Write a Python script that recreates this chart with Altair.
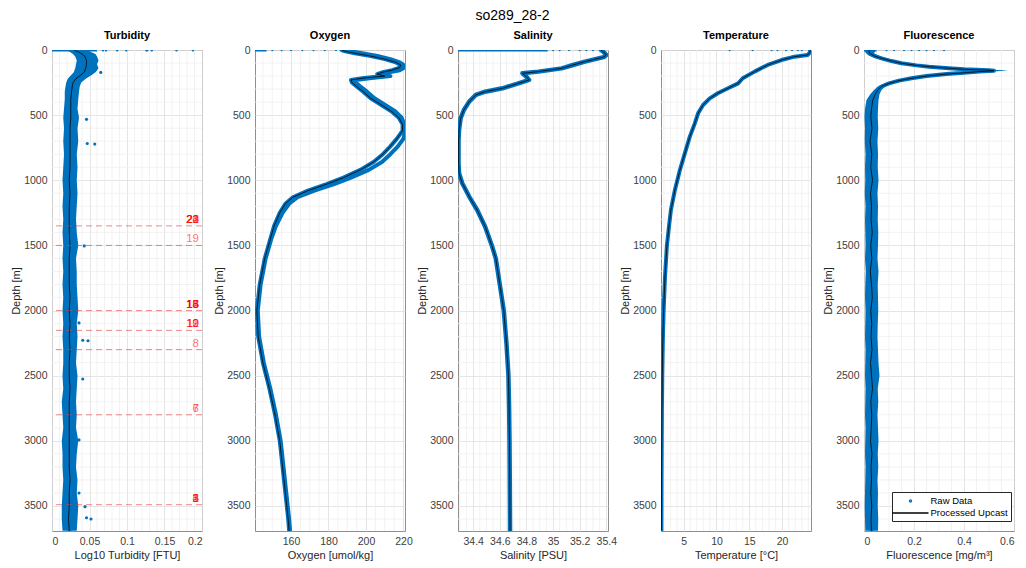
import altair as alt
import pandas as pd

FONT = "Liberation Sans"
RAW_BLUE = "#0072BD"
LINE_BLACK = "#000000"
MAJOR_GRID = "#dedede"
MINOR_GRID = "#efefef"

FIG_TITLE = "so289_28-2"
PANEL_TITLES = ["Turbidity", "Oxygen", "Salinity", "Temperature", "Fluorescence"]
X_TITLES = ["Log10 Turbidity [FTU]", "Oxygen [umol/kg]", "Salinity [PSU]",
            "Temperature [°C]", "Fluorescence [mg/m³]"]
X_FORMATS = [".2~f", "d", ".1~f", "d", ".1~f"]
LEGEND_LABELS = ["Raw Data", "Processed Upcast"]

DEPTH_MAX = 3692
DEPTH_TICKS = [0, 500, 1000, 1500, 2000, 2500, 3000, 3500]
DEPTH_MINOR = [d for d in range(100, 3700, 100) if d % 500]

# ---------------- Turbidity ----------------
TURB_DOMAIN = [0, 0.2]
TURB_TICKS = [0, 0.05, 0.1, 0.15, 0.2]
TURB_MINOR = [0.01, 0.02, 0.03, 0.04, 0.06, 0.07, 0.08, 0.09, 0.11, 0.12,
              0.13, 0.14, 0.16, 0.17, 0.18, 0.19]
TURB_DEPTH = [2, 15, 30, 50, 80, 110, 140, 170, 195, 220, 250, 280, 320, 380, 450,
              520, 600, 700, 800, 900, 1000, 1100, 1200, 1300, 1400, 1500, 1600,
              1700, 1800, 1900, 2000, 2100, 2200, 2300, 2400, 2500, 2600, 2700,
              2800, 2900, 3000, 3100, 3200, 3300, 3400, 3500, 3600, 3690]
TURB_LO = [0.020, 0.024, 0.028, 0.031, 0.033, 0.032, 0.031, 0.029, 0.025, 0.021,
           0.019, 0.018, 0.017, 0.017, 0.016, 0.015, 0.016, 0.015, 0.016, 0.015,
           0.014, 0.015, 0.014, 0.015, 0.014, 0.015, 0.014, 0.015, 0.014, 0.015,
           0.014, 0.015, 0.014, 0.015, 0.015, 0.014, 0.015, 0.013, 0.014, 0.015,
           0.013, 0.014, 0.014, 0.015, 0.014, 0.013, 0.013, 0.014]
TURB_PROC = [0.030, 0.035, 0.040, 0.044, 0.046, 0.046, 0.045, 0.043, 0.038, 0.032,
             0.028, 0.027, 0.026, 0.025, 0.025, 0.025, 0.024, 0.024, 0.024, 0.024,
             0.023, 0.024, 0.023, 0.023, 0.023, 0.024, 0.023, 0.023, 0.023, 0.024,
             0.023, 0.024, 0.023, 0.024, 0.023, 0.023, 0.024, 0.023, 0.023, 0.023,
             0.023, 0.023, 0.023, 0.024, 0.023, 0.023, 0.022, 0.023]
TURB_HI = [0.048, 0.052, 0.058, 0.060, 0.062, 0.060, 0.062, 0.058, 0.052, 0.045,
           0.039, 0.037, 0.036, 0.035, 0.034, 0.036, 0.034, 0.035, 0.033, 0.034,
           0.033, 0.034, 0.033, 0.032, 0.033, 0.035, 0.032, 0.033, 0.033, 0.034,
           0.035, 0.033, 0.034, 0.033, 0.032, 0.034, 0.033, 0.032, 0.033, 0.032,
           0.035, 0.033, 0.032, 0.034, 0.033, 0.035, 0.034, 0.033]
TURB_SPIKE_DEPTH = [150, 172, 532, 718, 722, 1504, 2095, 2228, 2232, 2525, 2993,
                    3400, 3505, 3590, 3600]
TURB_SPIKE = [0.058, 0.065, 0.046, 0.047, 0.057, 0.043, 0.036, 0.041, 0.048,
              0.041, 0.036, 0.036, 0.044, 0.046, 0.052]
TURB_SURF_RUN = [0.0, 0.06]
TURB_SURF_DOTS = [0.068, 0.072, 0.087, 0.099, 0.126, 0.127, 0.133, 0.166, 0.188]

# Niskin bottle firing depths
BOTTLE_NUM = list(range(1, 25))
BOTTLE_DEPTH = [3490] * 5 + [2800] * 2 + [2300] + [2152] * 4 + [2000] * 6 + [1500] + [1350] * 5

# ---------------- Oxygen ----------------
OXY_DOMAIN = [140.8, 220.8]
OXY_TICKS = [160, 180, 200, 220]
OXY_MINOR = [145, 150, 155, 165, 170, 175, 185, 190, 195, 205, 210, 215]
OXY_DEPTH = [0, 10, 25, 45, 70, 95, 115, 135, 155, 170, 185, 200, 215, 230, 250, 280,
             320, 370, 420, 470, 520, 570, 620, 680, 740, 800, 860, 920, 980, 1030,
             1080, 1130, 1180, 1250, 1350, 1450, 1600, 1800, 2000, 2200, 2400, 2600,
             2800, 3000, 3200, 3400, 3600, 3690]
OXY_UP = [187, 189, 194, 202, 210, 216, 218.5, 218, 214, 209, 206, 210, 199, 192,
          192.5, 195, 198.5, 202.5, 208, 213.5, 217.5, 219.5, 219.5, 216.5, 213, 209,
          204, 197, 188, 179, 169, 161, 157, 154, 151, 149, 146, 143.3, 141.8, 142.5,
          145, 148.5, 151.5, 154, 155.5, 157, 158.5, 159]
OXY_DOWN = [190, 192, 198, 206, 213, 218, 220, 220.5, 218, 213, 210, 213, 203, 194.5,
            194.5, 197, 200.5, 204.5, 210, 215.5, 219, 220.5, 220.8, 220, 217, 213,
            208.5, 201.5, 192, 183, 172.5, 163.5, 159, 155.5, 152, 149.5, 146.5, 143.8,
            142.3, 143, 145.5, 149, 152, 154.5, 156, 157.5, 159, 159.5]
OXY_SURF_RUN = [140.8, 147]
OXY_SURF_DOTS = [150, 155, 160, 166, 172, 178, 184]

# ---------------- Salinity ----------------
SAL_DOMAIN = [34.286, 35.413]
SAL_TICKS = [34.4, 34.6, 34.8, 35, 35.2, 35.4]
SAL_MINOR = [34.3, 34.35, 34.45, 34.5, 34.55, 34.65, 34.7, 34.75, 34.85, 34.9, 34.95,
             35.05, 35.1, 35.15, 35.25, 35.3, 35.35]
SAL_DEPTH = [0, 15, 38, 55, 89, 115, 141, 166, 179, 205, 230, 256, 294, 320, 345, 396,
             460, 524, 614, 691, 870, 946, 1023, 1125, 1228, 1356, 1500, 1600, 1800,
             2000, 2250, 2500, 2750, 3000, 3300, 3690]
SAL = [35.36, 35.38, 35.40, 35.38, 35.24, 35.15, 35.065, 34.89, 34.77, 34.80, 34.82,
       34.74, 34.62, 34.49, 34.42, 34.37, 34.33, 34.306, 34.294, 34.29, 34.29, 34.294,
       34.318, 34.37, 34.43, 34.49, 34.54, 34.57, 34.60, 34.63, 34.65, 34.665, 34.67,
       34.673, 34.675, 34.677]
SAL_SURF_RUN = [34.286, 34.96]
SAL_SURF_DOTS = [35.0, 35.05, 35.12, 35.2, 35.25, 35.3]

# ---------------- Temperature ----------------
TEMP_DOMAIN = [1.55, 24.4]
TEMP_TICKS = [5, 10, 15, 20]
TEMP_MINOR = [2, 3, 4, 6, 7, 8, 9, 11, 12, 13, 14, 16, 17, 18, 19, 21, 22, 23, 24]
TEMP_DEPTH = [0, 20, 38, 51, 77, 115, 166, 217, 256, 294, 332, 371, 422, 486, 563,
              665, 793, 921, 1074, 1228, 1356, 1500, 1750, 2000, 2250, 2500, 2750,
              3000, 3300, 3690]
TEMP = [24.3, 24.2, 23.9, 21.9, 19.9, 17.8, 15.8, 14.0, 13.3, 11.75, 10.2, 8.98, 7.96,
        7.2, 6.7, 5.94, 5.18, 4.43, 3.67, 3.06, 2.76, 2.45, 2.15, 1.95, 1.82, 1.74,
        1.69, 1.66, 1.63, 1.61]
TEMP_SURF_DOTS = [12.0, 15.5, 18.4, 19.3, 20.6, 21.5, 22.4, 23.0]

# ---------------- Fluorescence ----------------
FLU_DOMAIN = [0, 0.6]
FLU_TICKS = [0, 0.2, 0.4, 0.6]
FLU_MINOR = [0.05, 0.1, 0.15, 0.25, 0.3, 0.35, 0.45, 0.5, 0.55]
FLU_DEPTH = [0, 10, 25, 45, 64, 85, 102, 118, 128, 140, 148, 155, 160, 166, 175, 185,
             200, 217, 235, 256, 280, 307, 340, 384, 450, 512, 600, 700, 800, 900,
             1000, 1100, 1200, 1300, 1400, 1500, 1600, 1700, 1800, 1900, 2000, 2100,
             2200, 2300, 2400, 2500, 2600, 2700, 2800, 2900, 3000, 3100, 3200, 3300,
             3400, 3500, 3600, 3690]
FLU_LO = [0.0, 0.003, 0.008, 0.02, 0.05, 0.09, 0.13, 0.19, 0.24, 0.32, 0.38, 0.46,
          0.48, 0.44, 0.38, 0.30, 0.22, 0.17, 0.12, 0.085, 0.055, 0.04, 0.025, 0.01,
          0.004, 0.002, 0.004, 0.003, 0.006, 0.004, 0.005, 0.003, 0.006, 0.004, 0.005,
          0.006, 0.004, 0.007, 0.005, 0.004, 0.006, 0.005, 0.004, 0.006, 0.005, 0.004,
          0.006, 0.005, 0.004, 0.006, 0.005, 0.004, 0.006, 0.005, 0.004, 0.003, 0.004,
          0.005]
FLU_PROC = [0.02, 0.02, 0.022, 0.04, 0.07, 0.11, 0.15, 0.21, 0.26, 0.34, 0.40, 0.50,
            0.52, 0.46, 0.40, 0.33, 0.25, 0.19, 0.14, 0.10, 0.07, 0.055, 0.045, 0.035,
            0.030, 0.027, 0.032, 0.024, 0.031, 0.027, 0.034, 0.026, 0.030, 0.028,
            0.033, 0.027, 0.031, 0.025, 0.030, 0.033, 0.027, 0.031, 0.028, 0.032,
            0.026, 0.030, 0.034, 0.027, 0.031, 0.029, 0.026, 0.032, 0.028, 0.030,
            0.027, 0.031, 0.028, 0.030]
FLU_HI = [0.05, 0.045, 0.04, 0.06, 0.09, 0.13, 0.17, 0.23, 0.28, 0.37, 0.42, 0.575,
          0.56, 0.50, 0.43, 0.36, 0.28, 0.21, 0.16, 0.115, 0.085, 0.07, 0.062, 0.058,
          0.056, 0.055, 0.057, 0.054, 0.056, 0.055, 0.058, 0.054, 0.056, 0.055, 0.057,
          0.056, 0.054, 0.058, 0.055, 0.056, 0.057, 0.055, 0.054, 0.056, 0.058, 0.062,
          0.055, 0.057, 0.054, 0.056, 0.058, 0.055, 0.057, 0.054, 0.056, 0.055, 0.057,
          0.056]
FLU_SURF_RUN = [0.0, 0.05]
FLU_SURF_DOTS = [0.09, 0.12, 0.16, 0.19, 0.22, 0.25, 0.28, 0.32]

DOT_PATH = "M-0.2,0A0.2,0.2 0 1,0 0.2,0A0.2,0.2 0 1,0 -0.2,0"
DASH_PATH = "M-3.6,0H3.6"

PANEL_W = 150
PANEL_H = 481


def build_panel(idx, domain, ticks, minor, raw_layers, proc):
    xs = alt.Scale(domain=domain, nice=False, zero=False)
    ys = alt.Scale(domain=[0, DEPTH_MAX], reverse=True, nice=False, zero=False)
    xa = alt.Axis(values=ticks, format=X_FORMATS[idx], title=X_TITLES[idx], grid=True)
    ya = alt.Axis(values=DEPTH_TICKS, format="d", title="Depth [m]", grid=True)

    def X(f):
        return alt.X(f, type="quantitative", scale=xs, axis=xa)

    def Y(f):
        return alt.Y(f, type="quantitative", scale=ys, axis=ya)

    layers = [
        alt.Chart(pd.DataFrame({"g": minor})).mark_rule(color=MINOR_GRID, strokeWidth=0.8)
        .encode(x=X("g")),
        alt.Chart(pd.DataFrame({"g": DEPTH_MINOR})).mark_rule(color=MINOR_GRID, strokeWidth=0.8)
        .encode(y=Y("g")),
    ]
    for kind, data, opts in raw_layers:
        df = pd.DataFrame(data)
        if kind == "band":
            layers.append(alt.Chart(df).mark_area(orient="horizontal", color=RAW_BLUE,
                                                  clip=True)
                          .encode(y=Y("depth"), x=X("lo"), x2="hi"))
        elif kind == "line":
            layers.append(alt.Chart(df).mark_line(color=RAW_BLUE, strokeJoin="round",
                                                  strokeCap="round", clip=True, **opts)
                          .encode(x=X("v"), y=Y("depth"), order="depth:Q"))
        elif kind == "dots":
            layers.append(alt.Chart(df).mark_circle(color=RAW_BLUE, opacity=1, clip=True, **opts)
                          .encode(x=X("v"), y=Y("depth")))
        elif kind == "run":
            layers.append(alt.Chart(df).mark_rule(color=RAW_BLUE, strokeWidth=2.5, clip=True)
                          .encode(x=X("a"), x2="b", y=Y("depth")))
    layers.append(
        alt.Chart(pd.DataFrame(proc)).mark_line(color=LINE_BLACK, strokeWidth=0.9,
                                                opacity=0.85, clip=True)
        .encode(x=X("v"), y=Y("depth"), order="depth:Q")
    )

    if idx == 0:
        bottles = pd.DataFrame({"num": BOTTLE_NUM, "depth": BOTTLE_DEPTH})
        levels = pd.DataFrame({"depth": sorted(set(BOTTLE_DEPTH))})
        layers.append(alt.Chart(levels).mark_rule(color="#e8383d", opacity=0.6,
                                                  strokeDash=[6, 4], strokeWidth=1)
                      .encode(y=Y("depth")))
        layers.append(alt.Chart(bottles).mark_text(align="right", baseline="alphabetic",
                                                   dy=-3, font=FONT, fontSize=11.5,
                                                   color="#ff0000", opacity=0.55)
                      .encode(y=Y("depth"), x=alt.value(147), text="num:N"))

    if idx == 4:
        leg = alt.Legend(title=None, orient="none", legendX=28, legendY=442,
                         strokeColor="#262626", fillColor="white", padding=3,
                         rowPadding=1, labelFont=FONT, labelFontSize=9.5,
                         labelColor="#000000", symbolSize=100, symbolStrokeWidth=1.3,
                         symbolOpacity=1, symbolOffset=9.5, labelOffset=14)
        legend_df = pd.DataFrame({"series": LEGEND_LABELS})
        layers.append(
            alt.Chart(legend_df).mark_point(opacity=0, filled=False).encode(
                color=alt.Color("series:N", legend=leg,
                                scale=alt.Scale(domain=LEGEND_LABELS,
                                                range=[RAW_BLUE, LINE_BLACK])),
                shape=alt.Shape("series:N", legend=leg,
                                scale=alt.Scale(domain=LEGEND_LABELS,
                                                range=[DOT_PATH, DASH_PATH])),
            )
        )

    return alt.layer(*layers).properties(
        width=PANEL_W, height=PANEL_H,
        title=alt.TitleParams(PANEL_TITLES[idx], fontSize=11, fontWeight="bold",
                              font=FONT, color="#000000", offset=4),
    )


surf = 2

turb = build_panel(
    0, TURB_DOMAIN, TURB_TICKS, TURB_MINOR,
    [
        ("band", {"depth": TURB_DEPTH, "lo": TURB_LO, "hi": TURB_HI}, {}),
        ("line", {"depth": TURB_DEPTH, "v": TURB_PROC}, {"strokeWidth": 4}),
        ("dots", {"depth": TURB_SPIKE_DEPTH, "v": TURB_SPIKE}, {"size": 10}),
        ("run", {"depth": [surf], "a": [TURB_SURF_RUN[0]], "b": [TURB_SURF_RUN[1]]}, {}),
        ("dots", {"depth": [surf] * len(TURB_SURF_DOTS), "v": TURB_SURF_DOTS}, {"size": 6}),
    ],
    {"depth": TURB_DEPTH, "v": TURB_PROC},
)

oxy = build_panel(
    1, OXY_DOMAIN, OXY_TICKS, OXY_MINOR,
    [
        ("line", {"depth": OXY_DEPTH, "v": OXY_DOWN}, {"strokeWidth": 4}),
        ("line", {"depth": OXY_DEPTH, "v": OXY_UP}, {"strokeWidth": 4}),
        ("run", {"depth": [surf], "a": [OXY_SURF_RUN[0]], "b": [OXY_SURF_RUN[1]]}, {}),
        ("dots", {"depth": [surf] * len(OXY_SURF_DOTS), "v": OXY_SURF_DOTS}, {"size": 4}),
    ],
    {"depth": OXY_DEPTH, "v": OXY_UP},
)

sal = build_panel(
    2, SAL_DOMAIN, SAL_TICKS, SAL_MINOR,
    [
        ("line", {"depth": SAL_DEPTH, "v": SAL}, {"strokeWidth": 4.5}),
        ("run", {"depth": [surf], "a": [SAL_SURF_RUN[0]], "b": [SAL_SURF_RUN[1]]}, {}),
        ("dots", {"depth": [surf] * len(SAL_SURF_DOTS), "v": SAL_SURF_DOTS}, {"size": 4}),
    ],
    {"depth": SAL_DEPTH, "v": SAL},
)

temp = build_panel(
    3, TEMP_DOMAIN, TEMP_TICKS, TEMP_MINOR,
    [
        ("line", {"depth": TEMP_DEPTH, "v": TEMP}, {"strokeWidth": 4}),
        ("dots", {"depth": [surf] * len(TEMP_SURF_DOTS), "v": TEMP_SURF_DOTS}, {"size": 4}),
    ],
    {"depth": TEMP_DEPTH, "v": TEMP},
)

flu = build_panel(
    4, FLU_DOMAIN, FLU_TICKS, FLU_MINOR,
    [
        ("band", {"depth": FLU_DEPTH, "lo": FLU_LO, "hi": FLU_HI}, {}),
        ("line", {"depth": FLU_DEPTH, "v": FLU_PROC}, {"strokeWidth": 4}),
        ("run", {"depth": [surf], "a": [FLU_SURF_RUN[0]], "b": [FLU_SURF_RUN[1]]}, {}),
        ("dots", {"depth": [surf] * len(FLU_SURF_DOTS), "v": FLU_SURF_DOTS}, {"size": 4}),
    ],
    {"depth": FLU_DEPTH, "v": FLU_PROC},
)

chart = alt.hconcat(
    turb, oxy, sal, temp, flu,
    spacing=53,
    bounds="flush",
    title=alt.TitleParams(FIG_TITLE, fontSize=14, fontWeight="normal", font=FONT,
                          color="#000000", anchor="middle", offset=7),
    padding={"left": 10, "top": 8, "right": 0, "bottom": 0},
).resolve_scale(
    color="independent", shape="independent"
).configure_view(
    stroke="#8f8f8f", strokeWidth=1
).configure_axis(
    labelFont=FONT, titleFont=FONT, labelFontSize=10.5, titleFontSize=11,
    labelColor="#404040", titleColor="#262626", titleFontWeight="normal",
    domain=False, ticks=False, gridColor=MAJOR_GRID, gridWidth=0.8, labelPadding=5,
).configure_axisY(
    titlePadding=2
).configure_axisX(
    titlePadding=3
)

chart.save("out.html", embed_options={"renderer": "svg", "actions": False})
